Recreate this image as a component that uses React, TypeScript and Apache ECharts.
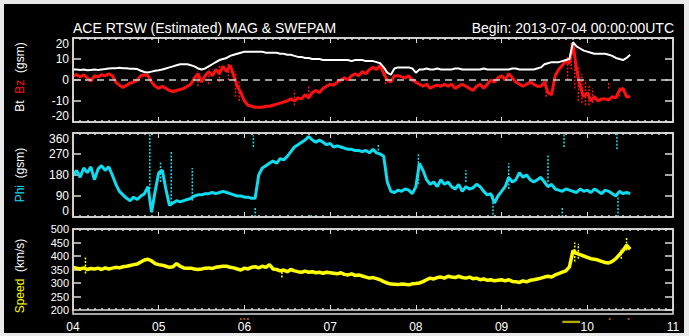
import React, { useEffect, useRef } from 'react';
import * as echarts from 'echarts';

// hours since 2013-07-04 00:00 UTC are the array index (hourly samples)
const dayLabels = ['04', '05', '06', '07', '08', '09', '10', '11'];

const bt = [
  5, 5, 4.8, 5, 4.6, 4.8, 5, 4.8, 5, 5.2,
  5.5, 5.6, 5.6, 5.8, 5.6, 5.6, 5.4, 5.4, 5.2, 4.4,
  3.8, 3.6, 4, 4.4, 4.6, 5, 5.5, 6, 6.5, 7,
  7.5, 7.5, 7.5, 7, 6.5, 5.5, 5, 5.5, 6.5, 7.5,
  8.5, 9.5, 10, 10.5, 11.5, 12, 12.5, 13, 13.5, 13.5,
  13.5, 13.5, 13.5, 13.5, 13, 13, 13, 13, 12.5, 12.5,
  12, 12, 11.5, 11, 11, 10.5, 10.5, 10, 10, 10,
  9.5, 9.5, 9.5, 9.5, 9.5, 9.5, 9.5, 9.5, 9, 9.5,
  9.5, 9.5, 9, 9, 9, 8.5, 8, 6, 3.5, 2.5,
  5.5, 6, 6, 6, 6, 5.5, 3.5, 5, 5, 5.5,
  5, 5, 5.5, 5, 5, 5, 5, 5.5, 5.5, 5,
  5, 5, 5, 5, 5, 5.5, 5, 5, 5, 5,
  5, 5, 5, 5.5, 5.5, 5, 5, 5, 5, 5,
  5.5, 6, 7.5, 8, 8.5, 8.5, 8.5, 9, 9.5, 10,
  18, 16, 15, 14, 13.5, 13, 12.5, 12.5, 12.5, 12.5,
  12, 11.5, 10.5, 10, 9.5, 10.5, 12,
];

const bz = [
  2, 2.5, 1.5, 2.5, 1, -0.5, 2, 1.5, 2.5, 2,
  3, 2, -1, -2.5, -3.5, -2.5, -1.5, -1, 0, 2,
  2.5, 2, -1, -3, -4, -3, -4, -5, -5.5, -5,
  -4.5, -4, -3, -2, 1, 3, -1, 2, 4, 2,
  5, 3, 6.5, 4, 7, 2, -3, -6, -10, -12,
  -12.5, -13, -13, -13, -12.5, -12.5, -12, -11.5, -11, -10.5,
  -10, -9, -10, -8.5, -9, -7, -8.5, -6, -5, -6,
  -4, -3, -2, -2.5, -1, 0, 1, 0, 2, 3,
  2, 4, 3, 5, 6, 5, 7, 3, 0, -1,
  2, 2, 1.5, 1, 2, 0, -1, -2, -3, -2,
  -4, -3, -2.5, -3, -2, -3, -2, -4, -3, -2,
  -3, -4, -5, -3, -2, -4, -2, 0, -1, 1,
  2, 0, 3, 1, -1, -2, -3, -2, -1, -2,
  -3, -3, -1, -6, -7, 2, 5, 7, 9, 8,
  17, 5, -3, -8, -6, -10, -8, -10, -9, -9,
  -9.5, -8, -8.5, -5, -4, -8, -8,
];

const phi = [
  180, 200, 170, 210, 190, 215, 160, 205, 220, 200,
  215, 180, 140, 110, 95, 80, 70, 85, 75, 90,
  100, 130, 20, 110, 190, 200, 120, 50, 60, 70,
  65, 70, 75, 80, 90, 95, 95, 100, 100, 105,
  100, 105, 110, 105, 100, 95, 90, 90, 85, 85,
  80, 80, 180, 210, 220, 230, 240, 230, 250, 245,
  260, 280, 300, 310, 320, 330, 345, 330, 320, 330,
  320, 310, 315, 300, 305, 300, 295, 290, 290, 285,
  285, 280, 285, 275, 290, 275, 270, 260, 150, 110,
  105, 115, 110, 120, 115, 100, 130, 230, 200, 160,
  140, 150, 130, 160, 140, 150, 130, 120, 140, 110,
  130, 120, 125, 140, 130, 110, 95, 100, 60, 90,
  110, 130, 170, 150, 160, 190, 170, 180, 160, 150,
  160, 170, 150, 130, 140, 120, 115, 110, 120, 115,
  110, 105, 120, 110, 115, 105, 120, 110, 100, 115,
  110, 100, 90, 110, 100, 105, 100,
];

const speed = [
  358, 355, 352, 356, 350, 354, 352, 355, 350, 356,
  352, 355, 358, 356, 360, 362, 365, 368, 370, 378,
  385, 388, 382, 372, 368, 366, 362, 358, 360, 372,
  362, 356, 355, 355, 352, 350, 352, 355, 356, 354,
  358, 360, 362, 362, 358, 356, 352, 348, 355, 352,
  358, 360, 356, 362, 358, 368, 352, 350, 345, 348,
  342, 350, 345, 342, 340, 344, 340, 342, 338, 340,
  336, 340, 338, 336, 334, 338, 332, 330, 334, 328,
  330, 326, 322, 318, 320, 316, 312, 305, 300, 296,
  295, 294, 296, 295, 293, 297, 298, 300, 305, 312,
  318, 315, 320, 322, 318, 325, 322, 320, 325, 320,
  318, 322, 316, 318, 312, 315, 310, 312, 308, 310,
  312, 308, 312, 306, 305, 302, 308, 304, 310, 312,
  315, 318, 322, 325, 322, 330, 335, 340, 345, 360,
  420, 410, 405, 400, 395, 390, 388, 385, 380, 376,
  374, 380, 390, 405, 420, 440, 425,
];

// scattered excursions: [hour, low, high]
const bzSpikes = [
  [35, -3, 4], [38, -2, 5], [41, -1, 7], [43.5, 0, 8], [45.5, -8, 4], [46.5, -10, 0],
  [62, -12, -5], [66, -9, -3], [87.5, -2, 6],
  [132.5, -8, 0], [138.5, 0, 11], [139.5, 5, 18], [140.5, -4, 16], [141.5, -10, 6],
  [142.5, -11, 3], [143.5, -12, 0], [144.5, -12, -2], [145.5, -11, -4], [150, -4, -1], [153, -8, -3],
];
const phiSpikes = [
  [21.5, 120, 360], [24.5, 150, 240], [27.5, 60, 280], [33.4, 70, 210],
  [50.5, 300, 350], [51, 0, 40], [66.7, 0, 15], [85.5, 270, 310], [96.7, 140, 270],
  [110, 150, 200], [117.6, 10, 100], [122, 120, 230], [133, 150, 270], [137, 0, 40],
  [137.5, 300, 360], [152.3, 290, 360], [152.6, 0, 90],
];
const speedSpikes = [
  [3.5, 335, 398], [58.5, 320, 350], [140.5, 380, 450], [141.5, 390, 445],
  [153.5, 390, 430], [155, 420, 470],
];

// data-quality marks under the bottom panel (hours)
const qualityBar = [137, 142];
const qualityDots = [47, 48, 49, 150.3, 155.6];

const FONT = '"Liberation Sans", Arial, sans-serif';
const FRAME = '#dcdcdc';

// panel boxes (layout, in chart pixels)
const PANELS = [
  { left: 69, top: 34, width: 600, height: 84 },
  { left: 69, top: 129, width: 600, height: 84 },
  { left: 69, top: 225, width: 600, height: 85 },
];

export default function App() {
  const ref = useRef<HTMLDivElement>(null);

  useEffect(() => {
    const chart = echarts.init(ref.current!, null, { renderer: 'svg' });

    const grids = PANELS.map((g) => ({ ...g, show: false }));
    const markGrid = { left: 69, top: 315, width: 600, height: 3, show: false };

    const mkX = (gridIndex: number, position: string, showLabel: boolean) => ({
      type: 'value',
      gridIndex,
      position,
      min: 0,
      max: 168,
      interval: 24,
      axisLine: { show: true, onZero: false, lineStyle: { color: FRAME, width: 1.5 } },
      splitLine: { show: false },
      axisTick: { show: true, inside: true, length: 5, lineStyle: { color: FRAME, width: 1 } },
      minorTick: { show: true, splitNumber: 12, length: 2, lineStyle: { color: FRAME, width: 1.5 } },
      axisLabel: {
        show: showLabel,
        color: '#ffffff',
        fontSize: 12,
        fontFamily: FONT,
        margin: 11,
        showMinLabel: true,
        showMaxLabel: true,
        formatter: (v: number) => dayLabels[Math.round(v / 24)],
      },
    });

    // main y axis: inner ticks and inner labels
    const mkY = (gridIndex: number, position: string, min: number, max: number, interval: number, showLabel: boolean, fontSize = 12) => ({
      type: 'value',
      gridIndex,
      position,
      min,
      max,
      interval,
      axisLine: { show: true, onZero: false, lineStyle: { color: FRAME, width: 1.5 } },
      splitLine: { show: false },
      axisTick: { show: true, inside: true, length: 8, lineStyle: { color: FRAME, width: 1.5 } },
      axisLabel: {
        show: showLabel,
        color: '#ffffff',
        fontSize,
        fontFamily: FONT,
        margin: 4,
        showMinLabel: false,
        showMaxLabel: false,
      },
    });

    // end labels only (min and max) on a twin axis
    const mkYEnds = (gridIndex: number, min: number, max: number, inset: boolean, fontSize = 12) => ({
      type: 'value',
      gridIndex,
      position: 'left',
      min,
      max,
      interval: max - min,
      axisLine: { show: false, onZero: false },
      splitLine: { show: false },
      axisTick: { show: false },
      axisLabel: {
        show: true,
        color: '#ffffff',
        fontSize,
        fontFamily: FONT,
        margin: 4,
        showMinLabel: true,
        showMaxLabel: true,
        ...(inset ? { verticalAlignMaxLabel: 'top', verticalAlignMinLabel: 'bottom' } : {}),
      },
    });

    const spikeRender = (color: string, width: number) => (params: any, api: any) => {
      const x = api.value(0);
      const a = api.coord([x, api.value(1)]);
      const b = api.coord([x, api.value(2)]);
      return {
        type: 'line',
        shape: { x1: a[0], y1: a[1], x2: b[0], y2: b[1] },
        style: { stroke: color, lineWidth: width, lineDash: [2, 1.5] },
      };
    };

    const toPairs = (arr: number[]) => arr.map((v, i) => [i, v]);

    const RED = '#ff1010';
    const CYAN = '#10dcf0';
    const YEL = '#ffff00';

    const frames = PANELS.map((p) => ({
      type: 'rect',
      z: 100,
      silent: true,
      shape: { x: p.left, y: p.top, width: p.width, height: p.height },
      style: { fill: 'none', stroke: FRAME, lineWidth: 1.5 },
    }));

    const option: any = {
      animation: false,
      backgroundColor: '#000000',
      grid: [...grids, markGrid],
      xAxis: [
        mkX(0, 'bottom', false), mkX(0, 'top', false),
        mkX(1, 'bottom', false), mkX(1, 'top', false),
        mkX(2, 'bottom', true), mkX(2, 'top', false),
        { type: 'value', gridIndex: 3, min: 0, max: 168, show: false },
      ],
      yAxis: [
        mkY(0, 'left', -20, 20, 10, true), mkY(0, 'right', -20, 20, 10, false),
        mkY(1, 'left', 0, 360, 90, true), mkY(1, 'right', 0, 360, 90, false),
        mkY(2, 'left', 200, 500, 50, true, 11), mkY(2, 'right', 200, 500, 50, false),
        { type: 'value', gridIndex: 3, min: 0, max: 1, show: false },
        mkYEnds(0, -20, 20, true), mkYEnds(1, 0, 360, true), mkYEnds(2, 200, 500, false, 11),
      ],
      graphic: [
        ...frames,
        {
          type: 'text', x: 69, y: 24,
          style: { text: 'ACE RTSW (Estimated) MAG & SWEPAM', fill: '#ffffff', fontSize: 14, fontFamily: FONT, verticalAlign: 'middle', align: 'left' },
        },
        {
          type: 'text', x: 670, y: 24,
          style: { text: 'Begin: 2013-07-04 00:00:00UTC', fill: '#ffffff', fontSize: 14, fontFamily: FONT, verticalAlign: 'middle', align: 'right' },
        },
        {
          type: 'text', x: 16, y: 73, rotation: Math.PI / 2,
          style: {
            text: '{w|Bt}  {r|Bz}  {w|(gsm)}', align: 'center', verticalAlign: 'middle', fontSize: 12, fontFamily: FONT, fill: '#ffffff',
            rich: { w: { fill: '#ffffff', fontSize: 12, fontFamily: FONT }, r: { fill: RED, fontSize: 12, fontFamily: FONT } },
          },
        },
        {
          type: 'text', x: 16, y: 171, rotation: Math.PI / 2,
          style: {
            text: '{c|Phi}  {w|(gsm)}', align: 'center', verticalAlign: 'middle', fontSize: 12, fontFamily: FONT, fill: '#ffffff',
            rich: { w: { fill: '#ffffff', fontSize: 12, fontFamily: FONT }, c: { fill: CYAN, fontSize: 12, fontFamily: FONT } },
          },
        },
        {
          type: 'text', x: 16, y: 272, rotation: Math.PI / 2,
          style: {
            text: '{y|Speed}  {w|(km/s)}', align: 'center', verticalAlign: 'middle', fontSize: 12, fontFamily: FONT, fill: '#ffffff',
            rich: { w: { fill: '#ffffff', fontSize: 12, fontFamily: FONT }, y: { fill: YEL, fontSize: 12, fontFamily: FONT } },
          },
        },
      ],
      series: [
        {
          type: 'line', xAxisIndex: 0, yAxisIndex: 0, data: toPairs(bt), showSymbol: false,
          lineStyle: { color: '#ffffff', width: 2 }, z: 3,
        },
        {
          type: 'line', xAxisIndex: 0, yAxisIndex: 0, data: toPairs(bz), showSymbol: false,
          lineStyle: { color: RED, width: 3 }, z: 2,
          markLine: {
            silent: true, symbol: ['none', 'none'], label: { show: false },
            lineStyle: { color: '#d0d0d0', type: [7, 5], width: 1.5 },
            data: [{ yAxis: 0 }],
          },
        },
        {
          type: 'custom', xAxisIndex: 0, yAxisIndex: 0, data: bzSpikes, renderItem: spikeRender(RED, 1.5), z: 2,
        },
        {
          type: 'line', xAxisIndex: 2, yAxisIndex: 2, data: toPairs(phi), showSymbol: false,
          lineStyle: { color: CYAN, width: 3 },
        },
        {
          type: 'custom', xAxisIndex: 2, yAxisIndex: 2, data: phiSpikes, renderItem: spikeRender(CYAN, 1.5),
        },
        {
          type: 'line', xAxisIndex: 4, yAxisIndex: 4, data: toPairs(speed), showSymbol: false,
          lineStyle: { color: YEL, width: 3.5 },
        },
        {
          type: 'custom', xAxisIndex: 4, yAxisIndex: 4, data: speedSpikes, renderItem: spikeRender(YEL, 1.5),
        },
        {
          type: 'line', xAxisIndex: 6, yAxisIndex: 6, data: qualityBar.map((h) => [h, 0]), showSymbol: false,
          lineStyle: { color: '#b4ac00', width: 2.5 },
        },
        {
          type: 'scatter', xAxisIndex: 6, yAxisIndex: 6, data: qualityDots.map((h) => [h, 1]),
          symbol: 'rect', symbolSize: [2, 2], itemStyle: { color: '#c0601a' },
        },
      ],
    };

    chart.setOption(option);
    return () => chart.dispose();
  }, []);

  return (
    <div style={{ position: 'absolute', left: 0, top: 0, width: 689, height: 336, background: '#e9e9e9' }}>
      <div ref={ref} style={{ position: 'absolute', left: 4, top: 4, width: 680, height: 329, background: '#000' }} />
    </div>
  );
}
